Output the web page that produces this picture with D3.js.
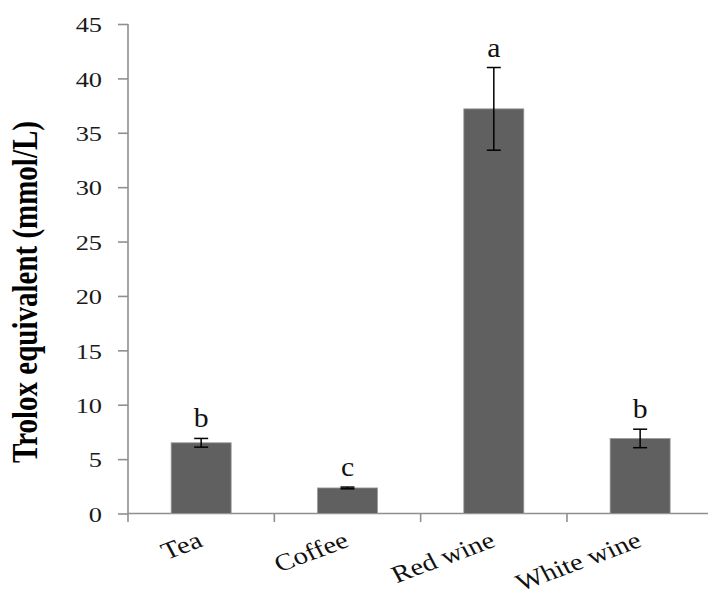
<!DOCTYPE html>
<html>
<head>
<meta charset="utf-8">
<script src="https://cdn.jsdelivr.net/npm/d3@7/dist/d3.min.js"></script>
<style>
  html, body { margin: 0; padding: 0; background: #ffffff; }
  svg { display: block; }
</style>
</head>
<body>
<svg id="chart" width="708" height="598"></svg>
<script>
// Antioxidant capacity of beverages (Trolox equivalent, mmol/L)
const categories = ["Tea", "Coffee", "Red wine", "White wine"];
const means      = [6.5, 2.35, 37.2, 6.9];
const errors     = [0.4, 0.08, 3.8, 0.85];
const groups     = ["b", "c", "a", "b"];
const yTicks     = [0, 5, 10, 15, 20, 25, 30, 35, 40, 45];
const yTitle     = "Trolox equivalent (mmol/L)";

const svg = d3.select("#chart");
const serif = "'Liberation Serif', 'Times New Roman', serif";
const axisColor = "#8f8f8f";
const stretch = 1.2; // horizontal widening of text glyphs

const y = d3.scaleLinear().domain([0, 45]).range([513.5, 24]);
const x = d3.scaleBand().domain(categories).range([128, 713.3]).padding(0);
const barW = x.bandwidth() * 0.41;

// Y axis
const yAxis = svg.append("g")
  .attr("transform", "translate(128,0)")
  .call(d3.axisLeft(y).tickValues(yTicks).tickSize(10).tickSizeOuter(0));
yAxis.select(".domain").attr("stroke", axisColor).attr("stroke-width", 1.6)
  .attr("d", `M0,${y(45)}V${y(0) + 8.5}`);
yAxis.selectAll(".tick line").attr("stroke", axisColor).attr("stroke-width", 1.6);
yAxis.selectAll(".tick text")
  .attr("x", -26 / stretch)
  .attr("dy", "0.35em")
  .attr("transform", `scale(${stretch},1)`)
  .attr("fill", "#1a1a1a")
  .style("font-family", serif)
  .style("font-size", "22px");

// X axis line with category boundary ticks
const xAxis = svg.append("g");
xAxis.append("line")
  .attr("x1", x.range()[0]).attr("x2", x.range()[1])
  .attr("y1", y(0)).attr("y2", y(0))
  .attr("stroke", axisColor).attr("stroke-width", 1.6);
xAxis.selectAll("line.tick")
  .data(categories.slice(1))
  .join("line")
  .attr("class", "tick")
  .attr("x1", d => x(d)).attr("x2", d => x(d))
  .attr("y1", y(0)).attr("y2", y(0) + 8.5)
  .attr("stroke", axisColor).attr("stroke-width", 1.6);

// Bars
svg.append("g").selectAll("rect")
  .data(categories)
  .join("rect")
  .attr("x", d => x(d) + x.bandwidth() / 2 - barW / 2)
  .attr("width", barW)
  .attr("y", (d, i) => y(means[i]))
  .attr("height", (d, i) => y(0) - y(means[i]))
  .attr("fill", "#606060")
  .attr("stroke", "#9a9a9a")
  .attr("stroke-width", 0.8);

// Error bars
const eb = svg.append("g").attr("stroke", "#000").attr("stroke-width", 1.5);
categories.forEach((c, i) => {
  const cx = x(c) + x.bandwidth() / 2;
  const top = y(means[i] + errors[i]);
  const bot = y(means[i] - errors[i]);
  eb.append("line").attr("x1", cx).attr("x2", cx).attr("y1", top).attr("y2", bot);
  eb.append("line").attr("x1", cx - 7).attr("x2", cx + 7).attr("y1", top).attr("y2", top);
  eb.append("line").attr("x1", cx - 7).attr("x2", cx + 7).attr("y1", bot).attr("y2", bot);
});

// Significance letters
svg.append("g").selectAll("text")
  .data(categories)
  .join("text")
  .attr("transform", (d, i) =>
    `translate(${x(d) + x.bandwidth() / 2},${y(means[i] + errors[i]) - 11}) scale(1.1,1)`)
  .attr("text-anchor", "middle")
  .attr("fill", "#111")
  .style("font-family", serif)
  .style("font-size", "27px")
  .text((d, i) => groups[i]);

// Category labels
svg.append("g").selectAll("text")
  .data(categories)
  .join("text")
  .attr("transform", d =>
    `translate(${x(d) + x.bandwidth() / 2 + 3},546) scale(${stretch},1) rotate(-24)`)
  .attr("text-anchor", "end")
  .attr("fill", "#111")
  .style("font-family", serif)
  .style("font-size", "24px")
  .text(d => d);

// Y axis title
svg.append("text")
  .attr("transform", `translate(37,292) scale(${stretch},1) rotate(-90)`)
  .attr("text-anchor", "middle")
  .attr("fill", "#000")
  .style("font-family", serif)
  .style("font-weight", "bold")
  .style("font-size", "29px")
  .text(yTitle);
</script>
</body>
</html>
